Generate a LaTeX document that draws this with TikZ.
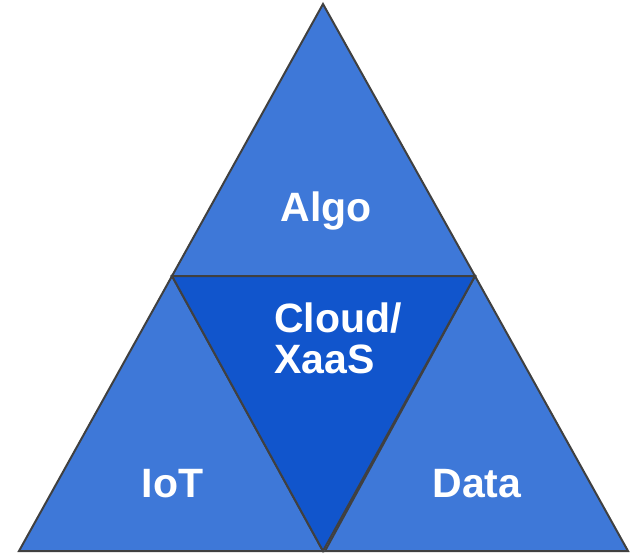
\documentclass[tikz,border=0pt]{standalone}
\usepackage{fontspec}
\setmainfont{Liberation Sans}
\usepackage{tikz}
\usetikzlibrary{calc}
\definecolor{sideblue}{RGB}{62,120,216}
\definecolor{coreblue}{RGB}{17,85,204}
\definecolor{edgegray}{RGB}{64,64,64}
\tikzset{
  tri/.style={draw=edgegray, line width=2pt, line join=miter, fill=sideblue},
  core/.style={tri, fill=coreblue},
  lbl/.style={text=white, font=\fontsize{41}{42}\selectfont\bfseries, inner sep=0pt, anchor=base}
}
\begin{document}
\begin{tikzpicture}[x=1pt,y=-1pt]
        \useasboundingbox (0,0) rectangle (635,555);

        % corners
        \coordinate (apex) at (323,4);
        \coordinate (midL) at (172,276);
        \coordinate (midR) at (475,276);
        \coordinate (botL) at (19,551);
        \coordinate (botM) at (323,551);
        \coordinate (botMR) at (325,551);
        \coordinate (botR) at (628,551);

        %Shape: Triangle (top)
        \draw [tri] (apex) -- (midL) -- (midR) -- cycle ;
        %Shape: Triangle (left)
        \draw [tri] (midL) -- (botL) -- (botM) -- cycle ;
        %Shape: Triangle (right)
        \draw [tri] (midR) -- (botMR) -- (botR) -- cycle ;
        %Shape: Triangle (middle, upside down)
        \draw [core] (midL) -- (midR) -- (botM) -- cycle ;

        % Text Node
        \node (algo) [lbl] at (326,221) {Algo};
        % Text Node
        \node (cloud) [lbl, anchor=base west] at (274,332) {Cloud/};
        % Text Node
        \node (xaas) [lbl, anchor=base west] at (274,373) {XaaS};
        % Text Node
        \node (iot) [lbl] at (172.5,497) {IoT};
        % Text Node
        \node (data) [lbl] at (477,497) {Data};

\end{tikzpicture}
\end{document}
